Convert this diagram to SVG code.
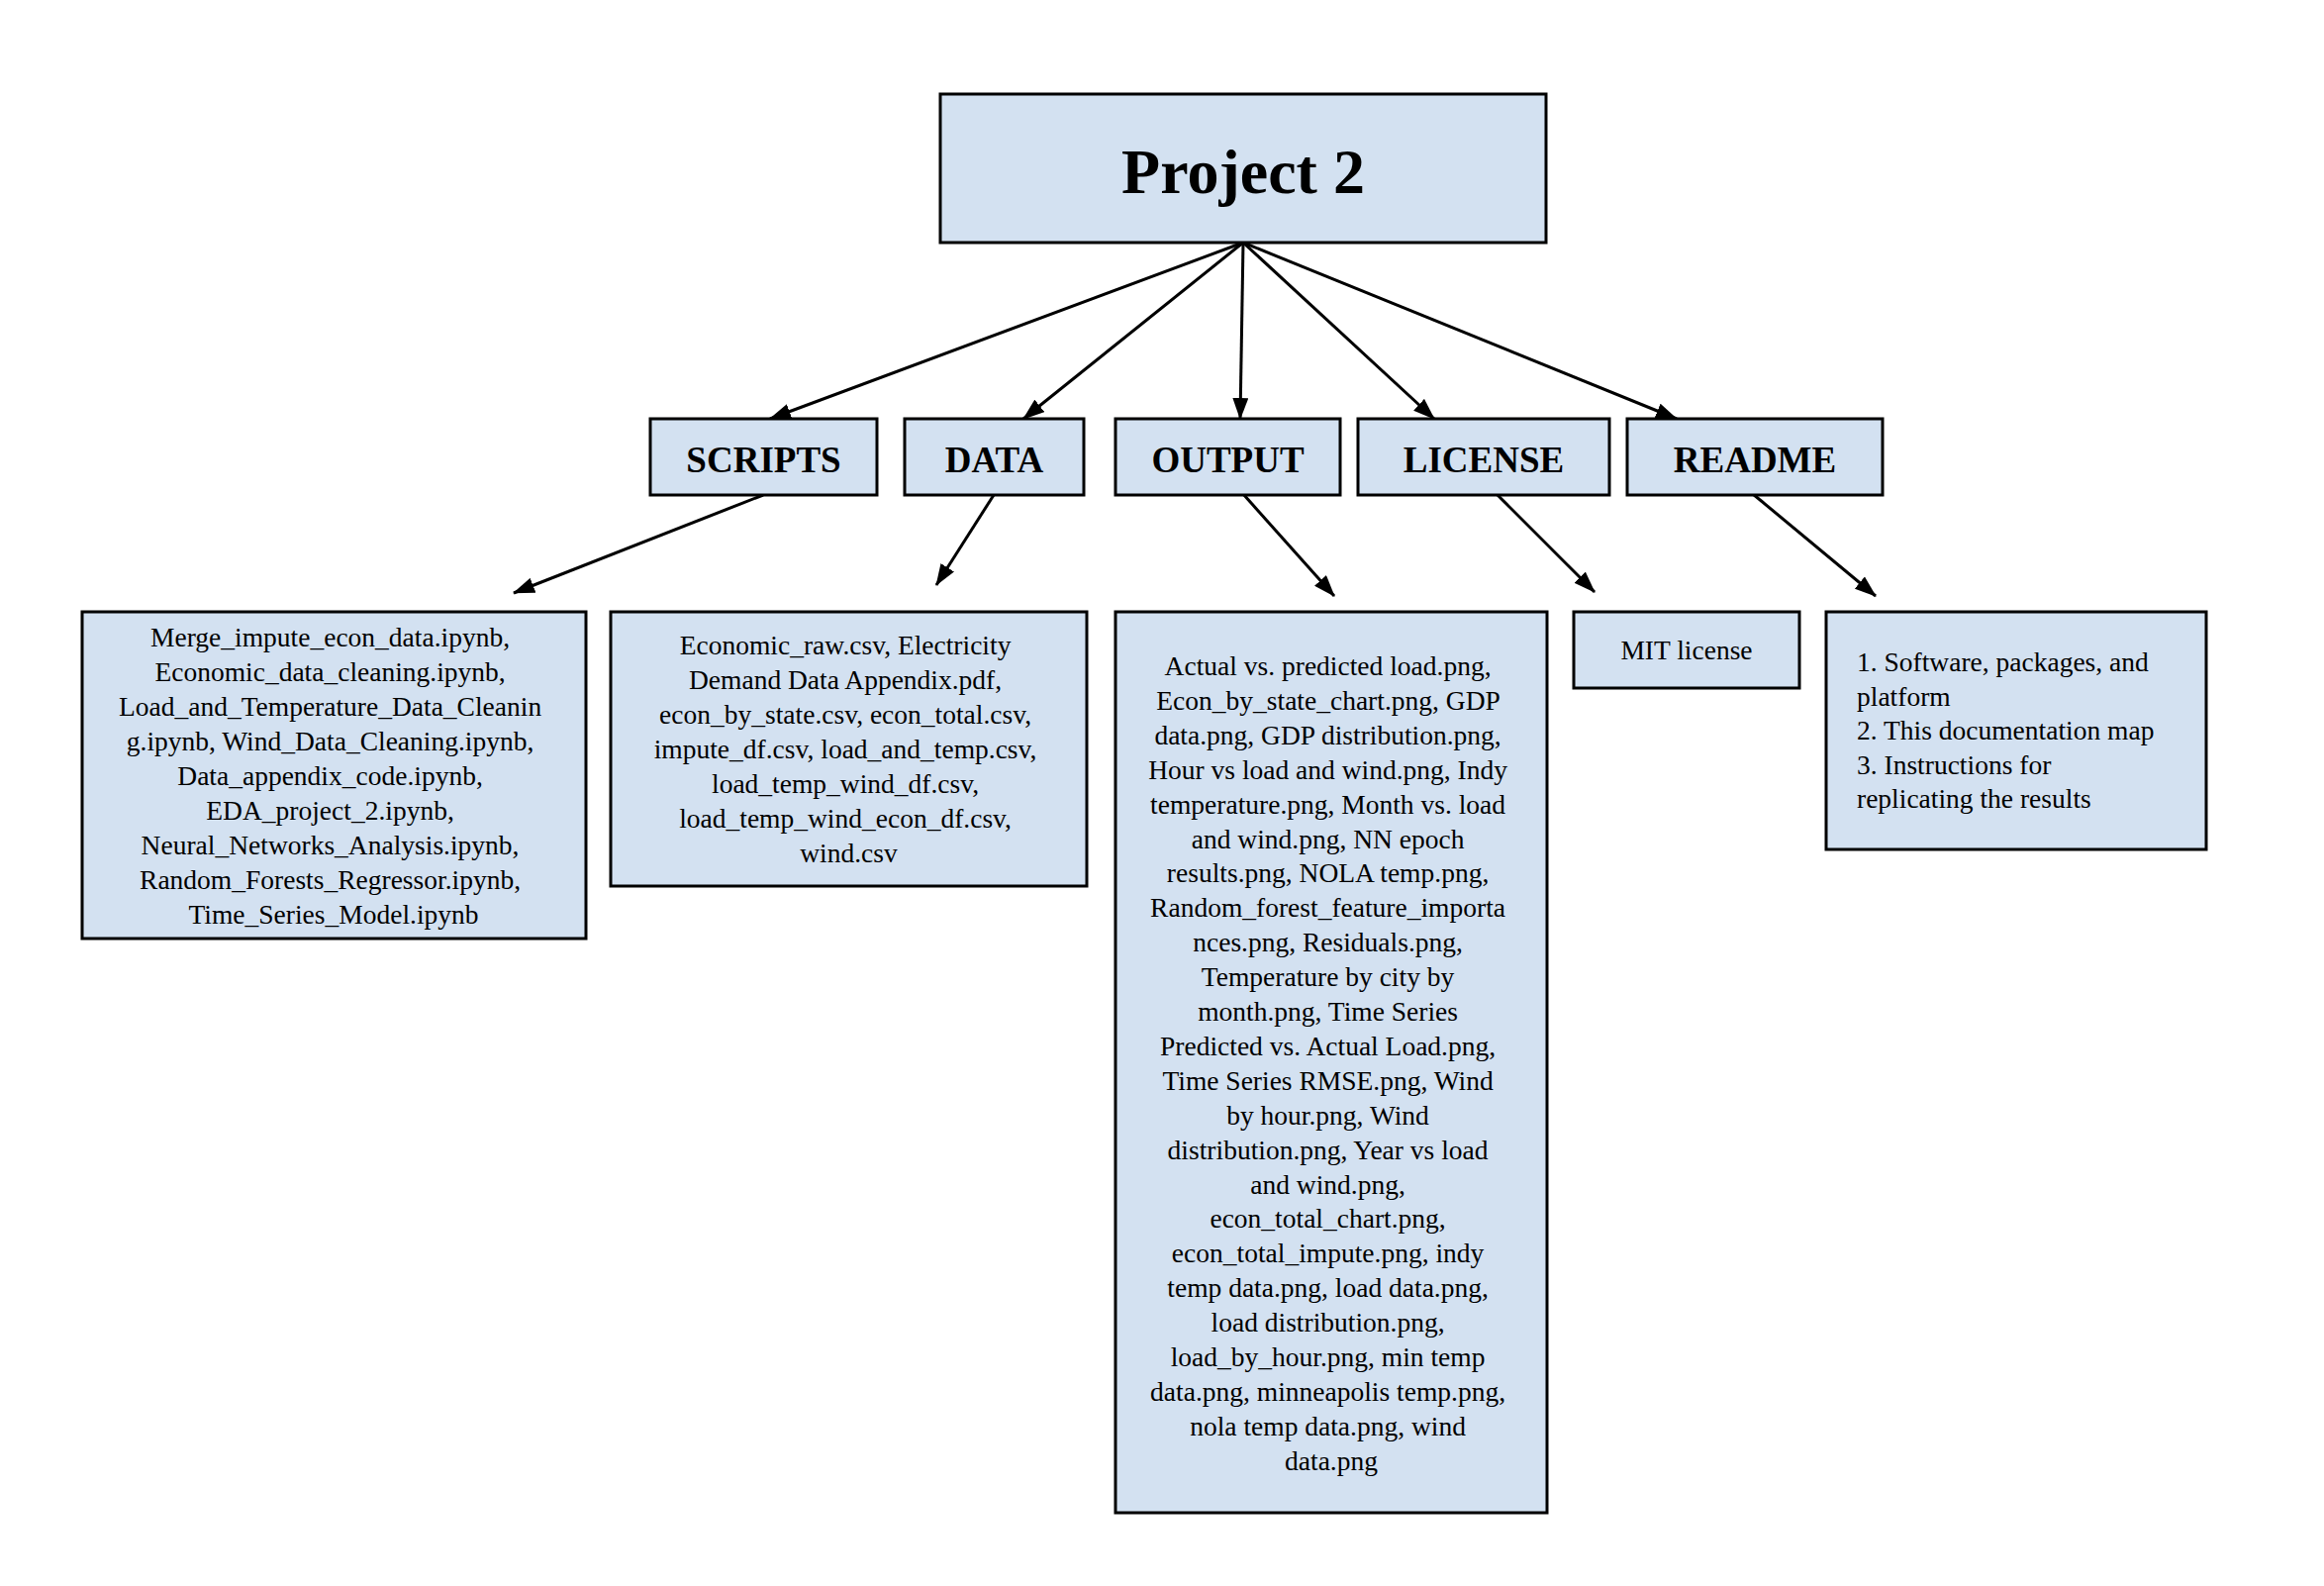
<svg xmlns="http://www.w3.org/2000/svg" width="2348" height="1602" viewBox="0 0 2348 1602">
<style>
.box{fill:#d3e1f1;stroke:#000;stroke-width:3}
.title{font-family:"Liberation Serif","Times New Roman",serif;font-weight:bold;font-size:64px;text-anchor:middle;fill:#000}
.head{font-family:"Liberation Serif","Times New Roman",serif;font-weight:bold;font-size:37px;text-anchor:middle;fill:#000}
.body{font-family:"Liberation Serif","Times New Roman",serif;font-size:27.5px;text-anchor:middle;fill:#000}
.left{text-anchor:start}
.conn line{stroke:#000;stroke-width:3;fill:none}
</style>
<defs>
<marker id="ah" markerUnits="userSpaceOnUse" markerWidth="22" markerHeight="16" refX="21" refY="8" orient="auto">
<path d="M0,0 L22,8 L0,16 z" fill="#000"/>
</marker>
</defs>
<rect width="2348" height="1602" fill="#fff"/>
<g id="connectors" class="conn">
<line x1="1256" y1="245" x2="778" y2="423" marker-end="url(#ah)"/>
<line x1="1256" y1="245" x2="1034" y2="423" marker-end="url(#ah)"/>
<line x1="1256" y1="245" x2="1253" y2="423" marker-end="url(#ah)"/>
<line x1="1256" y1="245" x2="1449" y2="423" marker-end="url(#ah)"/>
<line x1="1256" y1="245" x2="1694" y2="423" marker-end="url(#ah)"/>
<line x1="771" y1="500" x2="519" y2="599" marker-end="url(#ah)"/>
<line x1="1004" y1="500" x2="946" y2="591" marker-end="url(#ah)"/>
<line x1="1256" y1="499" x2="1348" y2="602" marker-end="url(#ah)"/>
<line x1="1512" y1="499" x2="1611" y2="598" marker-end="url(#ah)"/>
<line x1="1771" y1="499" x2="1895" y2="602" marker-end="url(#ah)"/>
</g>
<g id="project2">
<rect class="box" x="950" y="95" width="612" height="150"/>
<text class="title" x="1256" y="195">Project 2</text>
</g>
<g id="scripts">
<rect class="box" x="657" y="423" width="229" height="77"/>
<text class="head" x="771.5" y="477">SCRIPTS</text>
</g>
<g id="data">
<rect class="box" x="914" y="423" width="181" height="77"/>
<text class="head" x="1004.5" y="477">DATA</text>
</g>
<g id="output">
<rect class="box" x="1127" y="423" width="227" height="77"/>
<text class="head" x="1240.5" y="477">OUTPUT</text>
</g>
<g id="license">
<rect class="box" x="1372" y="423" width="254" height="77"/>
<text class="head" x="1499" y="477">LICENSE</text>
</g>
<g id="readme">
<rect class="box" x="1644" y="423" width="258" height="77"/>
<text class="head" x="1773" y="477">README</text>
</g>
<g id="scripts-list">
<rect class="box" x="83" y="618" width="509" height="330"/>
<text class="body" x="337" y="653">
<tspan x="337" y="653">Merge_impute_econ_data.ipynb,</tspan>
<tspan x="337" dy="35">Economic_data_cleaning.ipynb,</tspan>
<tspan x="337" dy="35">Load_and_Temperature_Data_Cleanin</tspan>
<tspan x="337" dy="35">g.ipynb, Wind_Data_Cleaning.ipynb,</tspan>
<tspan x="337" dy="35">Data_appendix_code.ipynb,</tspan>
<tspan x="337" dy="35">EDA_project_2.ipynb,</tspan>
<tspan x="337" dy="35">Neural_Networks_Analysis.ipynb,</tspan>
<tspan x="337" dy="35">Random_Forests_Regressor.ipynb,</tspan>
<tspan x="337" dy="35">Time_Series_Model.ipynb</tspan>
</text>
</g>
<g id="data-list">
<rect class="box" x="617" y="618" width="481" height="277"/>
<text class="body" x="857.5" y="661">
<tspan x="857.5" y="661">Economic_raw.csv, Electricity</tspan>
<tspan x="857.5" dy="35">Demand Data Appendix.pdf,</tspan>
<tspan x="857.5" dy="35">econ_by_state.csv, econ_total.csv,</tspan>
<tspan x="857.5" dy="35">impute_df.csv, load_and_temp.csv,</tspan>
<tspan x="857.5" dy="35">load_temp_wind_df.csv,</tspan>
<tspan x="857.5" dy="35">load_temp_wind_econ_df.csv,</tspan>
<tspan x="857.5" dy="35">wind.csv</tspan>
</text>
</g>
<g id="output-list">
<rect class="box" x="1127" y="618" width="436" height="910"/>
<text class="body" x="1345" y="682">
<tspan x="1345" y="682">Actual vs. predicted load.png,</tspan>
<tspan x="1345" dy="34.9">Econ_by_state_chart.png, GDP</tspan>
<tspan x="1345" dy="34.9">data.png, GDP distribution.png,</tspan>
<tspan x="1345" dy="34.9">Hour vs load and wind.png, Indy</tspan>
<tspan x="1345" dy="34.9">temperature.png, Month vs. load</tspan>
<tspan x="1345" dy="34.9">and wind.png, NN epoch</tspan>
<tspan x="1345" dy="34.9">results.png, NOLA temp.png,</tspan>
<tspan x="1345" dy="34.9">Random_forest_feature_importa</tspan>
<tspan x="1345" dy="34.9">nces.png, Residuals.png,</tspan>
<tspan x="1345" dy="34.9">Temperature by city by</tspan>
<tspan x="1345" dy="34.9">month.png, Time Series</tspan>
<tspan x="1345" dy="34.9">Predicted vs. Actual Load.png,</tspan>
<tspan x="1345" dy="34.9">Time Series RMSE.png, Wind</tspan>
<tspan x="1345" dy="34.9">by hour.png, Wind</tspan>
<tspan x="1345" dy="34.9">distribution.png, Year vs load</tspan>
<tspan x="1345" dy="34.9">and wind.png,</tspan>
<tspan x="1345" dy="34.9">econ_total_chart.png,</tspan>
<tspan x="1345" dy="34.9">econ_total_impute.png, indy</tspan>
<tspan x="1345" dy="34.9">temp data.png, load data.png,</tspan>
<tspan x="1345" dy="34.9">load distribution.png,</tspan>
<tspan x="1345" dy="34.9">load_by_hour.png, min temp</tspan>
<tspan x="1345" dy="34.9">data.png, minneapolis temp.png,</tspan>
<tspan x="1345" dy="34.9">nola temp data.png, wind</tspan>
<tspan x="1345" dy="34.9">data.png</tspan>
</text>
</g>
<g id="license-list">
<rect class="box" x="1590" y="618" width="228" height="77"/>
<text class="body" x="1704" y="666">MIT license</text>
</g>
<g id="readme-list">
<rect class="box" x="1845" y="618" width="384" height="240"/>
<text class="body left" x="1876" y="678">
<tspan x="1876" y="678">1. Software, packages, and</tspan>
<tspan x="1876" dy="34.6">platform</tspan>
<tspan x="1876" dy="34.6">2. This documentation map</tspan>
<tspan x="1876" dy="34.6">3. Instructions for</tspan>
<tspan x="1876" dy="34.6">replicating the results</tspan>
</text>
</g>
</svg>
